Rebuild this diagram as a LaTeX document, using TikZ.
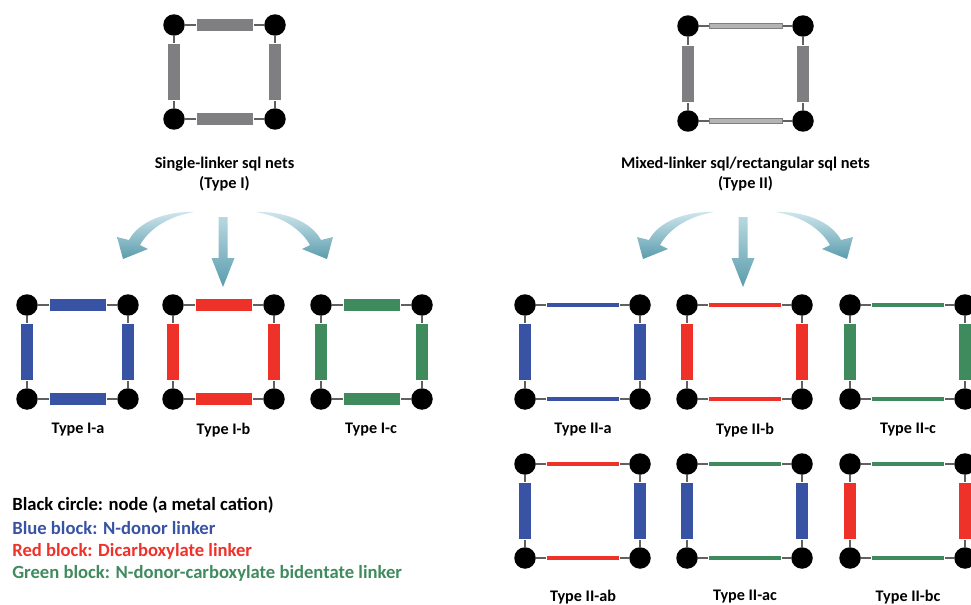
\documentclass[tikz,border=0pt]{standalone}
\usepackage{fontspec}
\setmainfont{Carlito}
\definecolor{linkblue}{HTML}{3853A4}
\definecolor{linkred}{HTML}{EE3129}
\definecolor{linkgreen}{HTML}{3F8B5E}
\definecolor{bargray}{HTML}{7F7F82}
\definecolor{slimgray}{HTML}{B4B4B4}
\definecolor{bondgray}{HTML}{606060}
\definecolor{arrowlight}{HTML}{D0E7ED}
\definecolor{arrowdark}{HTML}{5A9CAD}
\tikzset{
  metal/.style={circle, fill=black, inner sep=0pt, minimum size=.43cm},
  bond/.style={draw=bondgray, line width=.6pt},
  barH/.style={rectangle, fill=#1, draw=white, line width=.3pt, inner sep=0pt, minimum width=1.14cm, minimum height=.25cm},
  barV/.style={barH=#1, minimum width=.25cm, minimum height=1.14cm},
  slimH/.style={barH=#1, minimum width=1.46cm, minimum height=.11cm},
  tag/.style={font=\bfseries\fontsize{9.2}{11}\selectfont},
  title/.style={font=\bfseries\fontsize{9.3}{11.3}\selectfont, align=center},
  legend/.style={anchor=west, inner sep=0pt, font=\bfseries\fontsize{10.6}{12}\selectfont},
  curl/.pic={\shade[top color=arrowlight, bottom color=arrowdark]
    (-31,-1) .. controls (-58,-2) and (-86,8) .. (-96,27) -- (-108,24) -- (-102,46)
    -- (-77,36) -- (-85,32) .. controls (-77,18) and (-60,4) .. cycle;},
  drop/.pic={\shade[top color=arrowlight!80!arrowdark, bottom color=arrowdark]
    (-6.5,4) -- (2.5,4) -- (2.5,45) -- (9.5,45) -- (-2,74) -- (-13.5,45) -- (-6.5,45) -- cycle;}
}
\newcommand{\sqlnet}[7]{%
  \node[metal] (#1-tl) at (#2,#3) {};
  \node[metal] (#1-tr) at ({#2+#4},#3) {};
  \node[metal] (#1-bl) at (#2,{#3+#5}) {};
  \node[metal] (#1-br) at ({#2+#4},{#3+#5}) {};
  \draw[bond] (#1-tl) -- node[#6] (#1-t) {} (#1-tr);
  \draw[bond] (#1-bl) -- node[#6] (#1-b) {} (#1-br);
  \draw[bond] (#1-tl) -- node[#7] (#1-l) {} (#1-bl);
  \draw[bond] (#1-tr) -- node[#7] (#1-r) {} (#1-br);
}
\begin{document}
\begin{tikzpicture}[x=0.02cm, y=-0.02cm]
  \useasboundingbox (0,0) rectangle (971,605);
  \clip (0,0) rectangle (971,605);
  \sqlnet{I}{174}{25}{101}{94}{barH=bargray}{barV=bargray}
  \sqlnet{II}{688}{26}{115}{95}{slimH=slimgray, draw=bargray}{barV=bargray}
  \node[title] (I-name) at (224.5,174) {Single-linker sql nets\\(Type I)};
  \node[title] (II-name) at (745.5,174) {Mixed-linker sql/rectangular sql nets\\(Type II)};
  \pic at (225,213) {curl};
  \pic[xscale=-1] at (225,213) {curl};
  \pic at (225,213) {drop};
  \pic at (745,213) {curl};
  \pic[xscale=-1] at (745,213) {curl};
  \pic at (745,213) {drop};
  \sqlnet{Ia}{27}{305}{101}{94}{barH=linkblue}{barV=linkblue}
  \sqlnet{Ib}{173}{305}{101}{94}{barH=linkred}{barV=linkred}
  \sqlnet{Ic}{321}{305}{101}{94}{barH=linkgreen}{barV=linkgreen}
  \node[tag] (Ia-name) at (78,430) {Type I-a};
  \node[tag] (Ib-name) at (223.5,430) {Type I-b};
  \node[tag] (Ic-name) at (371,430) {Type I-c};
  \sqlnet{IIa}{525}{305}{115}{94}{slimH=linkblue}{barV=linkblue}
  \sqlnet{IIb}{687}{305}{115}{94}{slimH=linkred}{barV=linkred}
  \sqlnet{IIc}{850}{305}{115}{94}{slimH=linkgreen}{barV=linkgreen}
  \node[tag] (IIa-name) at (583,430) {Type II-a};
  \node[tag] (IIb-name) at (745,430) {Type II-b};
  \node[tag] (IIc-name) at (908,430) {Type II-c};
  \sqlnet{IIab}{525}{464}{115}{94}{slimH=linkred}{barV=linkblue}
  \sqlnet{IIac}{687}{464}{115}{94}{slimH=linkgreen}{barV=linkblue}
  \sqlnet{IIbc}{850}{464}{115}{94}{slimH=linkgreen}{barV=linkred}
  \node[tag] (IIab-name) at (583,597) {Type II-ab};
  \node[tag] (IIac-name) at (745,597) {Type II-ac};
  \node[tag] (IIbc-name) at (908,597) {Type II-bc};
  \node[legend] (leg1) at (12,505) {Black circle: node (a metal cation)};
  \node[legend, text=linkblue] (leg2) at (12,528) {Blue block: N-donor linker};
  \node[legend, text=linkred] (leg3) at (12,551) {Red block: Dicarboxylate linker};
  \node[legend, text=linkgreen] (leg4) at (12,573) {Green block: N-donor-carboxylate bidentate linker};
\end{tikzpicture}
\end{document}
